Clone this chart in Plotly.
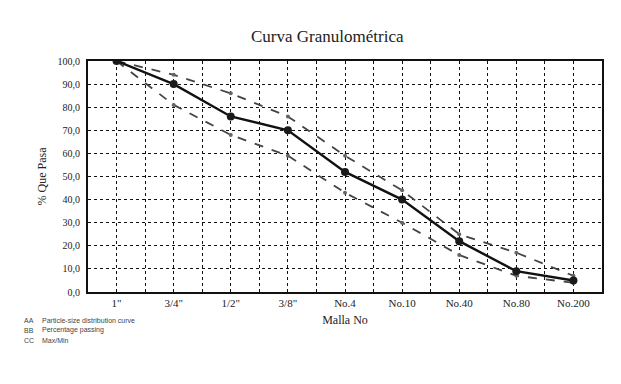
import plotly.graph_objects as go

categories = ['1"', '3/4"', '1/2"', '3/8"', 'No.4', 'No.10', 'No.40', 'No.80', 'No.200']
passing = [100, 90, 76, 70, 52, 40, 22, 9, 5]
upper_limit = [100, 94, 86, 76, 59, 44, 25, 17, 7]
lower_limit = [100, 81, 68, 59, 43, 30, 16, 7, 4]
y_ticks = [0, 10, 20, 30, 40, 50, 60, 70, 80, 90, 100]
legend_items = [("AA", "Particle-size distribution curve"),
                ("BB", "Percentage passing"),
                ("CC", "Max/Min")]

xpos = list(range(len(categories)))
serif = "Liberation Serif, Times New Roman, serif"

fig = go.Figure()
fig.add_trace(go.Scatter(x=xpos, y=upper_limit, mode="lines+markers",
                         line=dict(color="#444444", width=1.8, dash="dash"),
                         marker=dict(size=4, color="#666666")))
fig.add_trace(go.Scatter(x=xpos, y=lower_limit, mode="lines+markers",
                         line=dict(color="#444444", width=1.8, dash="dash"),
                         marker=dict(size=4, color="#666666")))
fig.add_trace(go.Scatter(x=xpos, y=passing, mode="lines+markers",
                         line=dict(color="#111111", width=2.4),
                         marker=dict(size=8, color="#1a1a1a")))

fig.update_layout(
    width=621, height=384,
    margin=dict(l=88, r=19, t=61, b=92),
    paper_bgcolor="white", plot_bgcolor="white",
    showlegend=False,
    separators=",.",
    font=dict(family=serif, color="#222222", size=10),
)
fig.update_xaxes(
    range=[-0.5, 8.5],
    tickmode="array", tickvals=xpos, ticktext=categories,
    showgrid=True, gridcolor="#111111", griddash="dot", gridwidth=1.3,
    minor=dict(tick0=-0.5, dtick=0.5, showgrid=True, gridcolor="#111111", griddash="dot", gridwidth=1.3),
    showline=True, linecolor="#111111", linewidth=1.8, mirror=True,
    ticks="", zeroline=False,
    ticklabelstandoff=0,
    tickfont=dict(size=11, family=serif),
    title=dict(text="Malla No", font=dict(size=12, family=serif), standoff=8),
)
fig.update_yaxes(
    range=[0, 100],
    tickmode="array", tickvals=y_ticks, tickformat=".1f",
    showgrid=True, gridcolor="#111111", griddash="dot", gridwidth=1.3,
    showline=True, linecolor="#111111", linewidth=1.8, mirror=True,
    ticks="", zeroline=False,
    ticklabelstandoff=4,
    tickfont=dict(size=10, family=serif),
    title=dict(text="% Que Pasa", font=dict(size=12, family=serif), standoff=8),
)

fig.add_annotation(text="Curva Granulométrica", xref="paper", yref="paper",
                   x=0.465, y=1.105, showarrow=False, xanchor="center", yanchor="middle",
                   font=dict(size=17, family=serif, color="#222222"))

for i, (code, label) in enumerate(legend_items):
    yy = 320 + i * 10
    ypaper = (292 - yy) / 231
    fig.add_annotation(text=code, xref="paper", yref="paper",
                       x=(22 - 88) / 514, y=ypaper, showarrow=False,
                       xanchor="left", yanchor="middle",
                       font=dict(size=7, family="Liberation Sans, Arial, sans-serif", color="#444444"))
    fig.add_annotation(text=label, xref="paper", yref="paper",
                       x=(40 - 88) / 514, y=ypaper, showarrow=False,
                       xanchor="left", yanchor="middle",
                       font=dict(size=7, family="Liberation Sans, Arial, sans-serif", color="#444444"))

fig.write_html("out.html", config={"displayModeBar": False},
               post_script="document.body.style.margin='0';")
